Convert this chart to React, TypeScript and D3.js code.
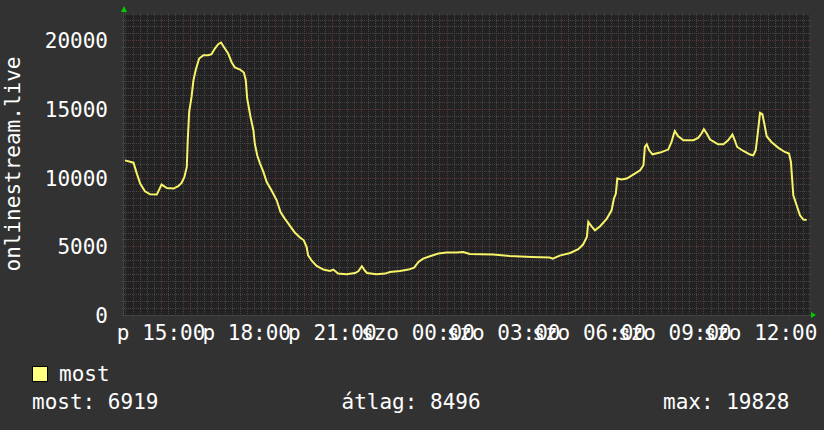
import React from "react";
import * as d3 from "d3";

const times: string[] = [
  "13:44","14:02","14:09","14:16","14:26","14:37","14:51","15:01","15:12","15:26",
  "15:36","15:43","15:49","15:54","15:56","15:59","16:04","16:08","16:13","16:20",
  "16:29","16:39","16:46","16:53","17:00","17:06","17:12","17:21","17:28","17:35",
  "17:46","17:54","17:58","18:01","18:08","18:14","18:17","18:22","18:28","18:35",
  "18:42","18:52","19:03","19:11","19:20","19:31","19:41","19:52","20:00","20:06",
  "20:09","20:17","20:27","20:41","20:55","21:02","21:12","21:30","21:48","21:55",
  "22:02","22:09","22:13","22:33","22:51","23:01","23:22","23:40","23:52","+00:01",
  "+00:11","+00:25","+00:43","+01:00","+01:21","+01:35","+01:49","+02:38","+03:13","+03:59",
  "+04:37","+04:43","+04:58","+05:20","+05:37","+05:47","+05:55","+05:58","+06:05","+06:12",
  "+06:23","+06:37","+06:47","+06:52","+06:56","+06:59","+07:08","+07:19","+07:29","+07:36",
  "+07:47","+07:54","+07:57","+08:01","+08:06","+08:13","+08:29","+08:46","+08:53","+08:57",
  "+09:00","+09:07","+09:18","+09:39","+09:49","+09:56","+10:01","+10:07","+10:14","+10:31",
  "+10:42","+10:52","+11:01","+11:06","+11:11","+11:24","+11:38","+11:45","+11:50","+11:55",
  "+11:59","+12:04","+12:08","+12:13","+12:23","+12:37","+12:51","+13:00","+13:04","+13:09",
  "+13:16","+13:23","+13:30","+13:37"
];

const values: number[] = [
  11250,11085,10290,9563,9003,8785,8763,9490,9243,9200,
  9367,9607,10044,10772,12715,14774,15866,17081,17860,18661,
  18901,18901,18974,19389,19702,19828,19505,19025,18414,18006,
  17860,17642,17081,15750,14411,13443,12474,11623,11019,10408,
  9680,9076,8348,7496,7016,6480,6000,5633,5437,4949,
  4345,3930,3566,3304,3202,3304,3013,2962,3057,3200,
  3544,3202,3057,2962,3013,3130,3202,3304,3450,3857,
  4105,4272,4469,4541,4541,4585,4440,4396,4294,4221,
  4178,4105,4323,4512,4782,5124,5677,6769,6456,6164,
  6456,7016,7620,8471,8835,9927,9854,9927,10145,10291,
  10531,10895,12227,12424,11987,11696,11820,12038,12591,13079,
  13392,13006,12715,12715,12882,13203,13515,13203,12766,12424,
  12424,12715,13130,12715,12227,11936,11674,11623,11987,13443,
  14702,14607,13930,13006,12591,12183,11863,11747,11135,8712,
  7984,7256,6943,6919
];

const yTicks: number[] = [0, 5000, 10000, 15000, 20000];
const xTickLabels: string[] = ["p 15:00", "p 18:00", "p 21:00", "szo 00:00", "szo 03:00", "szo 06:00", "szo 09:00", "szo 12:00"];
const xTickHours: number[] = [15, 18, 21, 24, 27, 30, 33, 36];
const yTitle = "onlinestream.live";
const seriesName = "most";
const statLabels: string[] = ["most: 6919", "átlag: 8496", "max: 19828"];

const base = new Date(2024, 4, 10, 0, 0, 0);
function parseT(s: string): Date {
  const next = s.startsWith("+");
  const [h, m] = s.replace("+", "").split(":").map(Number);
  return new Date(base.getTime() + ((next ? 24 : 0) * 60 + h * 60 + m) * 60000);
}
const hourDate = (h: number) => new Date(base.getTime() + h * 3600000);

const W = 824, H = 430;
const L = 124, R = 809, T = 15, B = 315;
const FONT = "'DejaVu Sans Mono', monospace";

export default function App() {
  const t0 = hourDate(13 + 42 / 60);
  const t1 = new Date(t0.getTime() + 24 * 3600000);
  const x = d3.scaleTime().domain([t0, t1]).range([L, R]);
  const y = d3.scaleLinear().domain([0, 21830]).range([B, T]);

  const data = times.map((t, i) => ({ t: parseT(t), v: values[i] }));
  const line = d3.line<{ t: Date; v: number }>().x(d => x(d.t)).y(d => y(d.v)).curve(d3.curveLinear);

  const minorY = d3.range(0, 21830, 500).filter(v => v % 5000 !== 0);
  const minorX = d3.timeMinute.every(15)!.range(t0, t1).filter(d => d.getMinutes() !== 0);
  const majorX = d3.timeHour.range(t0, t1);

  return (
    <svg width={W} height={H} style={{ position: "fixed", left: 0, top: 0, display: "block" }}>
      <rect x={0} y={0} width={W} height={H} fill="#323232" />
      <rect x={L} y={T} width={R - L} height={B - T} fill="#222222" />
      <g shapeRendering="crispEdges">
        {minorY.map(v => (
          <line key={"my" + v} x1={L - 2} x2={R + 2} y1={Math.round(y(v)) + 0.5} y2={Math.round(y(v)) + 0.5} stroke="#464646" strokeDasharray="1,1" />
        ))}
        {minorX.map(d => (
          <line key={"mx" + d.getTime()} x1={Math.round(x(d)) + 0.5} x2={Math.round(x(d)) + 0.5} y1={T - 2} y2={B + 2} stroke="#464646" strokeDasharray="1,1" />
        ))}
        {yTicks.filter(v => v > 0).map(v => (
          <line key={"My" + v} x1={L - 2} x2={R + 2} y1={Math.round(y(v)) + 0.5} y2={Math.round(y(v)) + 0.5} stroke="#5e3636" strokeDasharray="1,1" />
        ))}
        {majorX.map(d => (
          <line key={"Mx" + d.getTime()} x1={Math.round(x(d)) + 0.5} x2={Math.round(x(d)) + 0.5} y1={T - 2} y2={B + 3} stroke="#5e3636" strokeDasharray="1,1" />
        ))}
        <line x1={L - 0.5} x2={L - 0.5} y1={T - 4} y2={B + 1} stroke="#444" />
        <line x1={L - 2} x2={R + 2} y1={B + 0.5} y2={B + 0.5} stroke="#444" />
      </g>
      <path d={`M${L - 3},${T - 3} L${L + 3},${T - 3} L${L},${T - 9} Z`} fill="#00cc00" />
      <path d={`M${R + 2},${B - 3} L${R + 2},${B + 3} L${R + 7},${B} Z`} fill="#00cc00" />
      <path d={line(data) || ""} fill="none" stroke="#f7f46a" strokeWidth={2} strokeLinejoin="miter" />
      <g fill="#ffffff" fontFamily={FONT} fontSize={21}>
        {yTicks.map(v => (
          <text key={"yl" + v} x={108} y={y(v) + 8} textAnchor="end">{v}</text>
        ))}
        {xTickLabels.map((s, i) => (
          <text key={"xl" + i} x={x(hourDate(xTickHours[i]))} y={339.5} textAnchor="middle">{s}</text>
        ))}
        <text transform={`translate(19.5,164) rotate(-90)`} textAnchor="middle">{yTitle}</text>
        <rect x={32.5} y={366.5} width={15} height={15} fill="#ffff80" stroke="#000" strokeWidth={1} />
        <text x={59} y={381}>{seriesName}</text>
        <text x={32} y={409}>{statLabels[0]}</text>
        <text x={341.5} y={409}>{statLabels[1]}</text>
        <text x={663} y={409}>{statLabels[2]}</text>
      </g>
    </svg>
  );
}
